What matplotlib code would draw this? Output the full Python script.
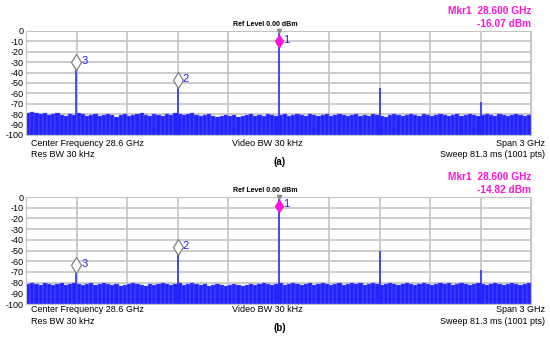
import numpy as np
import matplotlib.pyplot as plt

plt.rcParams['font.family'] = ['Liberation Sans', 'DejaVu Sans']

# frequency axis (GHz)
f_start = 27.1
f_stop = 30.1
grid_freqs = np.linspace(f_start, f_stop, 11)

# noise floor (dBm), 120 points per trace
noise_a = [-79, -78, -79, -80, -79, -81, -80, -79, -81, -82, -80, -81, -79, -80, -82, -81,
           -80, -82, -81, -80, -81, -83, -81, -80, -82, -81, -80, -79, -81, -82, -80, -81,
           -82, -80, -81, -79, -80, -81, -80, -79, -81, -82, -81, -80, -82, -83, -82, -81,
           -82, -81, -83, -82, -81, -80, -82, -81, -82, -80, -81, -82, -81, -80, -82, -81,
           -80, -81, -82, -80, -81, -82, -81, -80, -82, -81, -80, -81, -82, -81, -80, -82,
           -81, -82, -80, -81, -82, -83, -81, -80, -81, -82, -81, -80, -81, -82, -80, -81,
           -82, -81, -80, -81, -82, -81, -80, -82, -81, -80, -81, -82, -81, -80, -81, -82,
           -80, -81, -82, -81, -80, -81, -82, -81]
noise_b = [-81, -80, -81, -82, -80, -81, -82, -81, -80, -82, -81, -80, -81, -82, -81, -80,
           -82, -81, -80, -81, -82, -81, -83, -82, -81, -80, -81, -82, -83, -81, -82, -81,
           -80, -81, -82, -81, -80, -82, -81, -80, -81, -82, -81, -83, -82, -81, -82, -83,
           -82, -81, -82, -83, -82, -81, -82, -81, -80, -81, -82, -81, -80, -82, -81, -80,
           -81, -82, -81, -80, -82, -81, -80, -81, -82, -81, -80, -82, -81, -80, -81, -80,
           -82, -81, -80, -81, -82, -81, -80, -81, -82, -81, -80, -81, -82, -81, -80, -81,
           -82, -81, -80, -81, -80, -82, -81, -80, -81, -82, -81, -80, -81, -82, -81, -80,
           -81, -82, -81, -80, -81, -82, -81, -80]

# discrete tones: frequency (GHz) and level (dBm)
tone_f = [27.4, 28.0, 28.6, 29.2, 29.8]
tone_a = [-30, -48, -2, -55, -68]
tone_b = [-64, -47, -2, -50, -68]

# markers: number, frequency, level
mk_num = ['1', '2', '3']
mk_f = [28.6, 28.0, 27.4]
mk_a = [-10, -47, -30]
mk_b = [-8, -47, -64]

readout_a = '-16.07 dBm'
readout_b = '-14.82 dBm'
yticks = [0, -10, -20, -30, -40, -50, -60, -70, -80, -90, -100]

blue = '#2323ff'
magenta = '#ff14d8'

fig = plt.figure(figsize=(5.5, 3.43), dpi=100)


def panel(rect, noise, tones, mk, readout, tag, text_y):
    ax = fig.add_axes(rect)
    nf = np.linspace(f_start, f_stop, len(noise) + 1)
    w = nf[1] - nf[0]
    heights = np.array(noise) + 100
    ax.bar(nf[:-1], heights, width=w, bottom=-100, align='edge',
           color=blue, edgecolor='#6a6aff', linewidth=0.3, zorder=2)
    ax.vlines(tone_f, -100, tones, color=blue, lw=1.1, zorder=3)
    for i in range(len(mk_num)):
        if mk_num[i] == '1':
            ax.plot(mk_f[i], mk[i], marker='d', ms=6.5, color=magenta, mec=magenta, zorder=5)
        else:
            ax.plot(mk_f[i], mk[i], marker='d', ms=8, mfc='white', mec='#808080', mew=0.9, zorder=5)
        ax.text(mk_f[i] + 0.03, mk[i] + 1, mk_num[i], color=blue, fontsize=8, va='center', zorder=6)
    ax.plot(28.6, 0, marker='v', ms=3, color='#888888', clip_on=False, zorder=6)
    ax.set_xlim(f_start, f_stop)
    ax.set_ylim(-100, 0)
    ax.set_xticks(grid_freqs)
    ax.set_yticks(yticks)
    ax.set_xticklabels([])
    ax.set_yticklabels([str(v) for v in yticks], fontsize=6.5)
    ax.tick_params(length=0, pad=2)
    ax.grid(True, color='#c4c4c4', lw=1.2, zorder=1)
    ax.set_axisbelow(True)
    for s in ax.spines.values():
        s.set_color('#c4c4c4')
    # annotations in figure pixel coordinates
    def t(x, y, s, **kw):
        fig.text(x / 550, 1 - y / 343, s, **kw)
    t(265, text_y, 'Ref Level 0.00 dBm', fontsize=5, fontweight='bold', ha='center', va='center')
    t(531, text_y - 13, 'Mkr1  28.600 GHz', fontsize=7.3, fontweight='bold', color=magenta, ha='right', va='center')
    t(531, text_y, readout, fontsize=7.3, fontweight='bold', color=magenta, ha='right', va='center')
    yb = text_y + 120
    t(31, yb, 'Center Frequency 28.6 GHz', fontsize=6.5, ha='left', va='center')
    t(31, yb + 11, 'Res BW 30 kHz', fontsize=6.5, ha='left', va='center')
    t(232, yb, 'Video BW 30 kHz', fontsize=6.5, ha='left', va='center')
    t(545, yb, 'Span 3 GHz', fontsize=6.5, ha='right', va='center')
    t(545, yb + 11, 'Sweep 81.3 ms (1001 pts)', fontsize=6.5, ha='right', va='center')
    t(280, yb + 18, tag, fontsize=7, fontweight='bold', ha='center', va='center')
    return ax


panel([26 / 550, 1 - 135 / 343, 505 / 550, 104 / 343], noise_a, tone_a, mk_a, readout_a, '(a)', 24)
panel([26 / 550, 1 - 304 / 343, 505 / 550, 107 / 343], noise_b, tone_b, mk_b, readout_b, '(b)', 190)

fig.savefig('out.png', dpi=100)
